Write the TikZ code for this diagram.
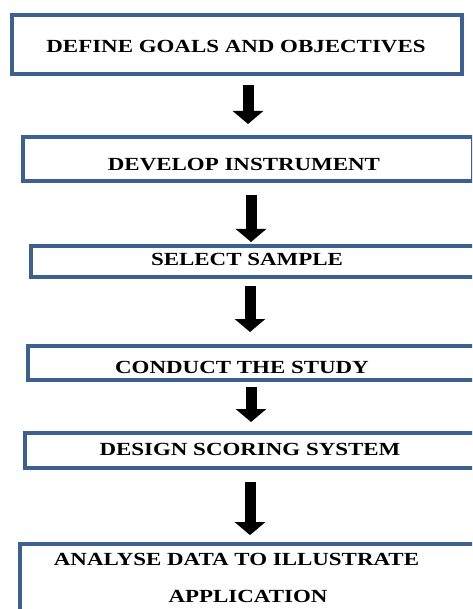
\documentclass[tikz,border=0pt]{standalone}
\usepackage{fontspec}
\setmainfont{Liberation Serif}[FakeStretch=1.24]
\usetikzlibrary{arrows.meta}

\definecolor{azulcaja}{RGB}{60,96,145}

\tikzset{
    etapa/.style={draw=azulcaja, line width=4pt, outer sep=0pt, inner sep=0pt},
    texto/.style={font=\fontsize{18.5}{22}\selectfont\bfseries, anchor=base, inner sep=0pt},
    flecha/.style={line width=11pt, -{Triangle[width=30pt,length=13pt]}}
}

\begin{document}
\begin{tikzpicture}[x=1pt, y=-1pt]

        % Marco de la figura
        \useasboundingbox[fill=white] (0,0) rectangle (472,609);
        \clip (0,0) rectangle (472,609);

        % Cajas de las etapas
        \node[etapa, minimum width=450pt, minimum height=59pt] (goals) at (237,44.5) {};
        \node[etapa, minimum width=450pt, minimum height=44pt] (instr) at (248,159) {};
        \node[etapa, minimum width=459pt, minimum height=31pt] (sample) at (260.5,261.5) {};
        \node[etapa, minimum width=462pt, minimum height=34pt] (conduct) at (259,363) {};
        \node[etapa, minimum width=465pt, minimum height=35pt] (scoring) at (257.5,450) {};
        \node[etapa, minimum width=470pt, minimum height=96pt] (analyse) at (255,591.6) {};

        % Textos
        \node[texto] (goalst) at (236,52.5) {DEFINE GOALS AND OBJECTIVES};
        \node[texto] (instrt) at (244,171) {DEVELOP INSTRUMENT};
        \node[texto] (samplet) at (247,265) {SELECT SAMPLE};
        \node[texto] (conductt) at (242,373) {CONDUCT THE STUDY};
        \node[texto] (scoringt) at (250,455) {DESIGN SCORING SYSTEM};
        \node[texto] (analyset) at (236.5,565) {ANALYSE DATA TO ILLUSTRATE};
        \node[texto] (applict) at (248,602.5) {APPLICATION};

        % Flechas entre etapas
        \draw[flecha] ([xshift=11pt,yshift=-11pt]goals.south) -- ([yshift=13pt]instr.north);
        \draw[flecha] ([xshift=3pt,yshift=-14pt]instr.south) -- ([xshift=-9.5pt,yshift=4pt]sample.north);
        \draw[flecha] ([xshift=-10.5pt,yshift=-9pt]sample.south) -- ([xshift=-9pt,yshift=14pt]conduct.north);
        \draw[flecha] ([xshift=-8pt,yshift=-7pt]conduct.south) -- ([xshift=-6.5pt,yshift=10.5pt]scoring.north);
        \draw[flecha] ([xshift=-7.5pt,yshift=-14.5pt]scoring.south) -- ([xshift=-5pt,yshift=8.5pt]analyse.north);

    \end{tikzpicture}
\end{document}
